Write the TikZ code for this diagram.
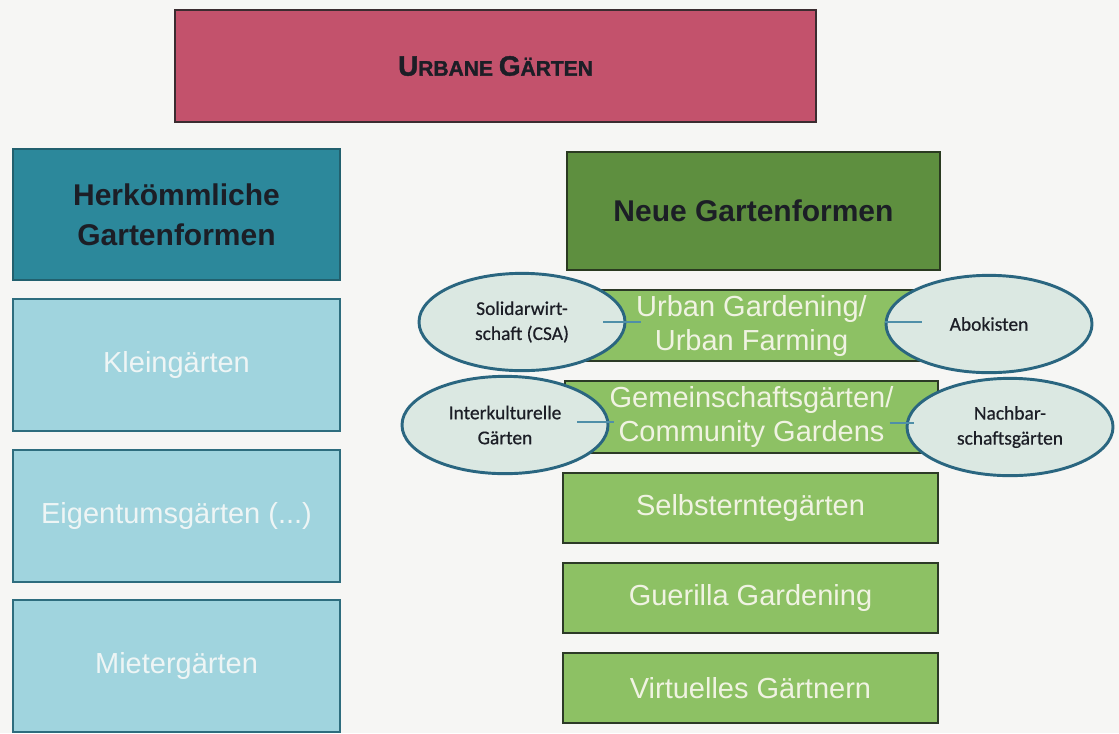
\documentclass[tikz,border=0pt]{standalone}
\usepackage{fontspec}
\setmainfont{Liberation Sans}
\newfontfamily\calib[FakeBold=0.6]{Carlito}
\newfontfamily\heavyfont[FakeBold=1.5]{Liberation Sans Bold}
\usetikzlibrary{shapes.geometric,calc}
\definecolor{bgc}{HTML}{F6F6F4}
\definecolor{urbfill}{HTML}{C3526C}
\definecolor{urbline}{HTML}{3B2C30}
\definecolor{tealfill}{HTML}{2C889B}
\definecolor{tealline}{HTML}{22606E}
\definecolor{ltfill}{HTML}{A0D4DE}
\definecolor{ltline}{HTML}{2E6D7E}
\definecolor{dgfill}{HTML}{5E8F3F}
\definecolor{dgline}{HTML}{2A3A20}
\definecolor{lgfill}{HTML}{8DC164}
\definecolor{lgline}{HTML}{2C3A26}
\definecolor{elfill}{HTML}{DBE8E2}
\definecolor{elline}{HTML}{2A6680}
\definecolor{conncol}{HTML}{4F8FA8}
\definecolor{lttext}{HTML}{EEF5F5}
\definecolor{gtext}{HTML}{F0F3E2}
\definecolor{darktext}{HTML}{1C1E26}
\begin{document}
\begin{tikzpicture}[x=0.75pt,y=-0.75pt,
  box/.style={rectangle,inner sep=0pt,align=center,line width=2.2pt},
  titlebox/.style={box,draw=urbline,fill=urbfill,text=darktext,minimum width=480.75pt,minimum height=84pt},
  herkbox/.style={box,draw=tealline,fill=tealfill,text=darktext,minimum width=245.25pt,minimum height=98.25pt,
     font=\bfseries\fontsize{22.5pt}{30pt}\selectfont},
  ltbox/.style={box,draw=ltline,fill=ltfill,text=lttext,minimum width=245.25pt,minimum height=99pt,
     font=\fontsize{21.75pt}{26pt}\selectfont},
  neuebox/.style={box,draw=dgline,fill=dgfill,text=darktext,minimum width=279.75pt,minimum height=88.5pt,
     font=\bfseries\fontsize{22.5pt}{30pt}\selectfont},
  gbox/.style={box,draw=lgline,fill=lgfill,text=gtext,minimum width=281.25pt,minimum height=52.5pt,
     font=\fontsize{21.75pt}{25.5pt}\selectfont},
  ovalbox/.style={ellipse,draw=elline,fill=elfill,line width=2.2pt,inner sep=0pt,align=center,
     minimum width=154.5pt,minimum height=73pt,text=darktext,font=\calib\fontsize{14.6pt}{18.75pt}\selectfont},
  conn/.style={draw=conncol,line width=1.3pt}]
\fill[bgc] (0,0) rectangle (1119,733);
\useasboundingbox (0,0) rectangle (1119,733);

\node[titlebox] (urb) at (495.5,66) {\heavyfont\fontsize{21pt}{24pt}\selectfont U\fontsize{15.75pt}{20pt}\selectfont RBANE \fontsize{21pt}{24pt}\selectfont G\fontsize{15.75pt}{20pt}\selectfont ÄRTEN};

\node[herkbox] (herk) at (176.5,214.5) {Herkömmliche\\Gartenformen};
\node[ltbox] (klein) at (176.5,365) {Kleingärten};
\node[ltbox] (eig) at (176.5,516) {Eigentumsgärten (...)};
\node[ltbox] (miet) at (176.5,666) {Mietergärten};

\node[neuebox] (neue) at (753.5,211) {Neue Gartenformen};
\node[gbox,minimum width=279.75pt,minimum height=53.25pt] (ug) at (751.5,325.5) {Urban Gardening/\\Urban Farming};
\node[gbox,minimum width=279.75pt,minimum height=54pt] (gem) at (751.5,417) {Gemeinschaftsgärten/\\Community Gardens};
\node[gbox] (selbst) at (750.5,508) {Selbsterntegärten};
\node[gbox] (guer) at (750.5,598) {Guerilla Gardening};
\node[gbox] (virt) at (750.5,688) {Virtuelles Gärtnern};

\node[ovalbox] (sol) at (522,322) {Solidarwirt-\\schaft (CSA)};
\node[ovalbox] (abo) at (989,324) {Abokisten};
\node[ovalbox] (inter) at (505,425) {Interkulturelle\\Gärten};
\node[ovalbox] (nach) at (1010,427) {Nachbar-\\schaftsgärten};

\draw[conn] ($(sol.east)+(-23,0)$) -- ($(sol.east)+(15,0)$);
\draw[conn] ($(abo.west)+(0,-2)$) -- ($(abo.west)+(37,-2)$);
\draw[conn] ($(inter.east)+(-32,-3)$) -- ($(inter.east)+(5,-3)$);
\draw[conn] ($(nach.west)+(-16,-4)$) -- ($(nach.west)+(8,-4)$);
\end{tikzpicture}
\end{document}
